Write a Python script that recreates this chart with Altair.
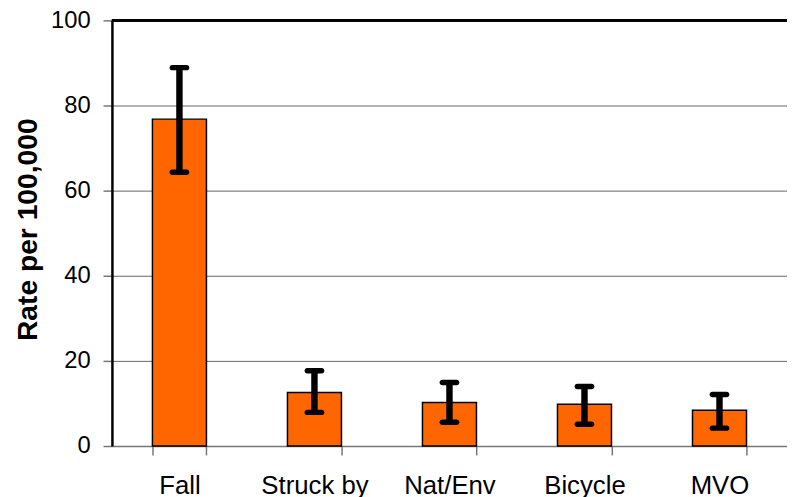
import altair as alt
import pandas as pd

categories = ["Fall", "Struck by", "Nat/Env", "Bicycle", "MVO"]
rates = [76.8, 12.6, 10.2, 9.8, 8.4]
ci_low = [64.3, 7.9, 5.6, 5.1, 4.2]
ci_high = [88.9, 17.7, 14.9, 14.0, 12.1]

df = pd.DataFrame({"cat": categories, "rate": rates, "lo": ci_low, "hi": ci_high})

FONT = "Liberation Sans"

x = alt.X(
    "cat:N",
    sort=categories,
    scale=alt.Scale(paddingInner=0.6, paddingOuter=0.3),
    axis=alt.Axis(
        title=None,
        labelAngle=0,
        labelFont=FONT,
        labelFontSize=26,
        labelColor="#000000",
        labelPadding=18,
        domainColor="#777777",
        domainWidth=1.5,
        tickColor="#777777",
        tickWidth=1.5,
        tickSize=9,
        tickBand="extent",
        grid=False,
    ),
)

y_axis = alt.Axis(
    title="Rate per 100,000",
    titleFont=FONT,
    titleFontSize=28.5,
    titleFontWeight="bold",
    titleColor="#000000",
    titleX=-76,
    titleY=211,
    titleBaseline="alphabetic",
    titleAngle=270,
    titleAlign="center",
    values=[0, 20, 40, 60, 80, 100],
    labelFont=FONT,
    labelFontSize=24,
    labelColor="#000000",
    labelPadding=13,
    domainColor="#000000",
    domainWidth=2.5,
    tickColor="#777777",
    tickWidth=1.5,
    tickSize=9,
    grid=True,
    gridColor="#666666",
    gridWidth=1,
)

y = alt.Y("rate:Q", scale=alt.Scale(domain=[0, 100], nice=False), axis=y_axis)

base = alt.Chart(df)

bars = base.mark_bar(color="#FF6600", stroke="#000000", strokeWidth=1.5).encode(x=x, y=y)

top_line = base.mark_rule(color="#000000", strokeWidth=2.5).encode(y=alt.datum(100))

err = base.mark_rule(color="#000000", strokeWidth=6.5).encode(
    x=alt.X("cat:N", sort=categories),
    y=alt.Y("lo:Q"),
    y2="hi:Q",
)
cap_hi = base.mark_tick(color="#000000", size=20, thickness=5.5, cornerRadius=2.75, opacity=1).encode(
    x=alt.X("cat:N", sort=categories), y=alt.Y("hi:Q")
)
cap_lo = base.mark_tick(color="#000000", size=20, thickness=5.5, cornerRadius=2.75, opacity=1).encode(
    x=alt.X("cat:N", sort=categories), y=alt.Y("lo:Q")
)

chart = (
    alt.layer(bars, top_line, err, cap_hi, cap_lo)
    .properties(
        width=682,
        height=430,
        autosize=alt.AutoSizeParams(type="none"),
        padding={"left": 105, "top": 10, "right": 0, "bottom": 49},
        background="#ffffff",
    )
    .configure_view(stroke=None)
)

chart.save("out.html", embed_options={"renderer": "svg", "actions": False})
